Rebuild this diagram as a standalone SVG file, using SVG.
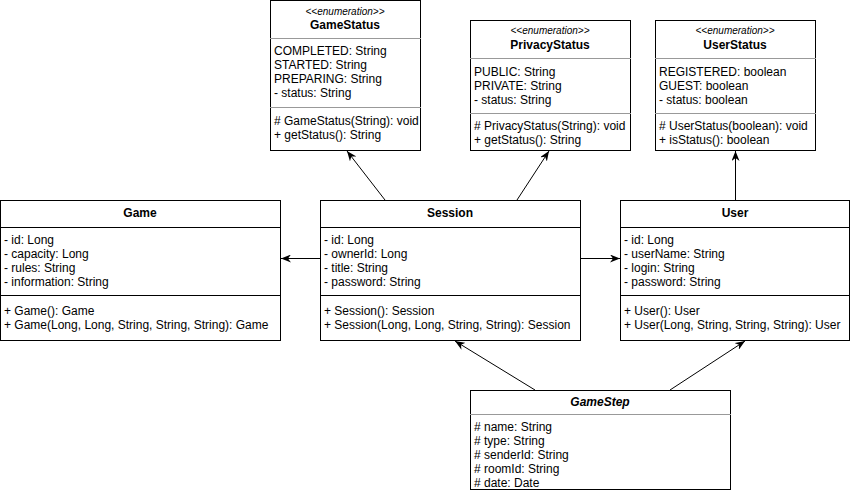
<svg xmlns="http://www.w3.org/2000/svg" width="851" height="491" viewBox="0 0 851 491">
<defs>
<marker id="arr" viewBox="0 0 10 8" refX="10" refY="4" markerWidth="10" markerHeight="8" markerUnits="userSpaceOnUse" orient="auto">
<path d="M0,0 L10,4 L0,8 L3,4 Z" fill="#000"/>
</marker>
<style>
text{font-family:"Liberation Sans",Arial,sans-serif;font-size:12px;fill:#000}
.box{fill:#fff;stroke:#000;stroke-width:1}
.sep{stroke:#000;stroke-width:1}
.sepg{stroke:#999;stroke-width:1}
.title{font-weight:bold;text-anchor:middle}
.stereo{font-style:italic;font-size:10px;text-anchor:middle}
.abs{font-style:italic;font-weight:bold;text-anchor:middle}
.conn line{stroke:#000;stroke-width:1;marker-end:url(#arr)}
</style>
</defs>
<g id="GameStatus">
<rect class="box" x="270.5" y="0.5" width="150" height="150"/>
<text class="stereo" x="345" y="14.5">&lt;&lt;enumeration&gt;&gt;</text>
<text class="title" x="345" y="29">GameStatus</text>
<line class="sepg" x1="270" y1="38.5" x2="421" y2="38.5"/>
<text x="274" y="55">COMPLETED: String</text>
<text x="274" y="69">STARTED: String</text>
<text x="274" y="83">PREPARING: String</text>
<text x="274" y="97">- status: String</text>
<line class="sepg" x1="270" y1="107.5" x2="421" y2="107.5"/>
<text x="274" y="125"># GameStatus(String): void</text>
<text x="274" y="139">+ getStatus(): String</text>
</g>
<g id="PrivacyStatus">
<rect class="box" x="470.5" y="20.5" width="160" height="130"/>
<text class="stereo" x="550" y="33.5">&lt;&lt;enumeration&gt;&gt;</text>
<text class="title" x="550" y="49">PrivacyStatus</text>
<line class="sepg" x1="470" y1="58.5" x2="631" y2="58.5"/>
<text x="474" y="76">PUBLIC: String</text>
<text x="474" y="90">PRIVATE: String</text>
<text x="474" y="104">- status: String</text>
<line class="sepg" x1="470" y1="113.5" x2="631" y2="113.5"/>
<text x="474" y="130"># PrivacyStatus(String): void</text>
<text x="474" y="144">+ getStatus(): String</text>
</g>
<g id="UserStatus">
<rect class="box" x="655.5" y="20.5" width="160" height="130"/>
<text class="stereo" x="735" y="33.5">&lt;&lt;enumeration&gt;&gt;</text>
<text class="title" x="735" y="49">UserStatus</text>
<line class="sepg" x1="655" y1="58.5" x2="816" y2="58.5"/>
<text x="659" y="76">REGISTERED: boolean</text>
<text x="659" y="90">GUEST: boolean</text>
<text x="659" y="104">- status: boolean</text>
<line class="sepg" x1="655" y1="113.5" x2="816" y2="113.5"/>
<text x="659" y="130"># UserStatus(boolean): void</text>
<text x="659" y="144">+ isStatus(): boolean</text>
</g>
<g id="Game">
<rect class="box" x="0.5" y="200.5" width="280" height="140"/>
<text class="title" x="140" y="217">Game</text>
<line class="sep" x1="0" y1="227.5" x2="281" y2="227.5"/>
<text x="4" y="244">- id: Long</text>
<text x="4" y="258">- capacity: Long</text>
<text x="4" y="272">- rules: String</text>
<text x="4" y="286">- information: String</text>
<line class="sep" x1="0" y1="295.5" x2="281" y2="295.5"/>
<text x="4" y="315">+ Game(): Game</text>
<text x="4" y="329">+ Game(Long, Long, String, String, String): Game</text>
</g>
<g id="Session">
<rect class="box" x="320.5" y="200.5" width="260" height="140"/>
<text class="title" x="450" y="217">Session</text>
<line class="sep" x1="320" y1="227.5" x2="581" y2="227.5"/>
<text x="324" y="244">- id: Long</text>
<text x="324" y="258">- ownerId: Long</text>
<text x="324" y="272">- title: String</text>
<text x="324" y="286">- password: String</text>
<line class="sep" x1="320" y1="295.5" x2="581" y2="295.5"/>
<text x="324" y="315">+ Session(): Session</text>
<text x="324" y="329">+ Session(Long, Long, String, String): Session</text>
</g>
<g id="User">
<rect class="box" x="620.5" y="200.5" width="229" height="140"/>
<text class="title" x="735" y="217">User</text>
<line class="sep" x1="620" y1="227.5" x2="850" y2="227.5"/>
<text x="624" y="244">- id: Long</text>
<text x="624" y="258">- userName: String</text>
<text x="624" y="272">- login: String</text>
<text x="624" y="286">- password: String</text>
<line class="sep" x1="620" y1="295.5" x2="850" y2="295.5"/>
<text x="624" y="315">+ User(): User</text>
<text x="624" y="329">+ User(Long, String, String, String): User</text>
</g>
<g id="GameStep">
<rect class="box" x="470.5" y="390.5" width="260" height="99"/>
<text class="abs" x="600" y="406">GameStep</text>
<line class="sepg" x1="470" y1="414.5" x2="731" y2="414.5"/>
<text x="474" y="431"># name: String</text>
<text x="474" y="445"># type: String</text>
<text x="474" y="459"># senderId: String</text>
<text x="474" y="473"># roomId: String</text>
<text x="474" y="487"># date: Date</text>
</g>
<g id="connectors" class="conn">
<line x1="320" y1="258.5" x2="281" y2="258.5"/>
<line x1="581" y1="258.5" x2="620" y2="258.5"/>
<line x1="385" y1="200" x2="347" y2="151"/>
<line x1="517" y1="200" x2="549" y2="151"/>
<line x1="735.5" y1="200" x2="735.5" y2="151"/>
<line x1="535" y1="390" x2="455" y2="341"/>
<line x1="670" y1="390" x2="745" y2="341"/>
</g>
</svg>
